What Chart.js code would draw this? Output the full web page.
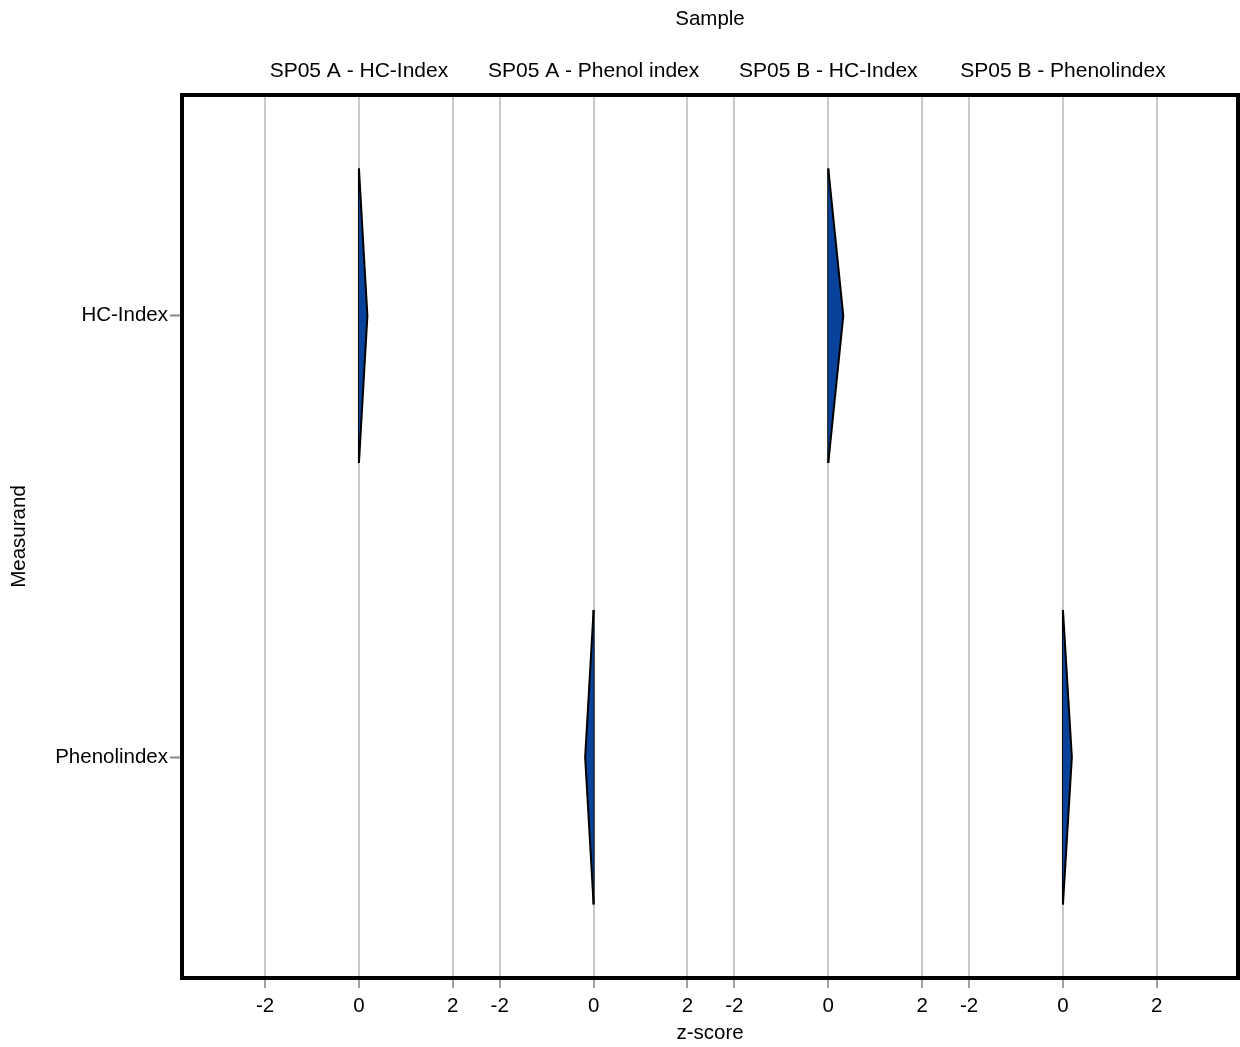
<!DOCTYPE html>
<html>
<head>
<meta charset="utf-8">
<script src="https://cdn.jsdelivr.net/npm/chart.js@4/dist/chart.umd.min.js"></script>
<style>
  html, body { margin: 0; padding: 0; background: #fff; }
  #wrap { width: 1240px; height: 1047px; }
</style>
</head>
<body>
<div id="wrap"><canvas id="zChart"></canvas></div>
<script>
// --- data ---
const samples = ['SP05 A - HC-Index', 'SP05 A - Phenol index', 'SP05 B - HC-Index', 'SP05 B - Phenolindex'];
const measurands = ['HC-Index', 'Phenolindex'];
const sampleRow = [0, 1, 0, 1];            // which measurand row each sample sits in
const zScores = [0.18, -0.18, 0.32, 0.19];  // z-score per sample
const zTicks = [-2, 0, 2];

const FACET = 5;      // width of one facet in z units
const HALF = 1 / 3;   // half height of the violin shape (row units)
const FONT = "'Liberation Sans', Arial, sans-serif";

Chart.defaults.font.family = FONT;
Chart.defaults.font.size = 20.5;
Chart.defaults.color = '#000';

const datasets = [];
samples.forEach((name, i) => {
  const c = i * FACET;
  const mid = sampleRow[i] + 0.5;
  // filled triangle towards the z value
  datasets.push({
    label: name,
    data: [{ x: c, y: mid - HALF }, { x: c + zScores[i], y: mid }, { x: c, y: mid + HALF }],
    borderColor: '#000',
    borderWidth: 2,
    backgroundColor: '#08429a',
    fill: { value: c },
    pointRadius: 0,
    tension: 0
  });
  // straight edge on the zero line
  datasets.push({
    label: name + ' edge',
    data: [{ x: c, y: mid - HALF }, { x: c, y: mid + HALF }],
    borderColor: '#000',
    borderWidth: 2,
    fill: false,
    pointRadius: 0
  });
});

const framePlugin = {
  id: 'frame',
  afterDraw(chart) {
    const { ctx, chartArea: a } = chart;
    ctx.save();
    ctx.strokeStyle = '#000';
    ctx.lineWidth = 4;
    ctx.strokeRect(a.left, a.top, a.right - a.left, a.bottom - a.top);
    ctx.restore();
  }
};

const xMin = zTicks[0] - 1.77;
const xMax = (samples.length - 1) * FACET + zTicks[zTicks.length - 1] + 1.73;

new Chart(document.getElementById('zChart'), {
  type: 'line',
  data: { datasets },
  plugins: [framePlugin],
  options: {
    indexAxis: 'y',
    responsive: true,
    maintainAspectRatio: false,
    animation: false,
    layout: { padding: { right: 2 } },
    plugins: { legend: { display: false }, tooltip: { enabled: false } },
    scales: {
      x: {
        type: 'linear',
        position: 'bottom',
        min: xMin,
        max: xMax,
        afterBuildTicks(scale) {
          const t = [];
          samples.forEach((_, i) => zTicks.forEach(v => t.push({ value: i * FACET + v })));
          scale.ticks = t;
        },
        afterFit(scale) { scale.height = 69; },
        ticks: {
          padding: 6,
          maxRotation: 0,
          autoSkip: false,
          callback: v => String(Math.round(v - FACET * Math.round(v / FACET)))
        },
        grid: { color: '#c8c8c8', lineWidth: 2, tickLength: 10, tickColor: '#a0a0a0', tickWidth: 2 },
        border: { display: false },
        title: { display: true, text: 'z-score', padding: { top: 0, bottom: 1 } }
      },
      x2: {
        type: 'linear',
        position: 'top',
        min: xMin,
        max: xMax,
        afterBuildTicks(scale) {
          scale.ticks = samples.map((_, i) => ({ value: i * FACET }));
        },
        afterFit(scale) { scale.height = 95; },
        ticks: {
          padding: 3,
          maxRotation: 0,
          autoSkip: false,
          font: { size: 21 },
          callback: v => samples[Math.round(v / FACET)]
        },
        grid: { display: false },
        border: { display: false },
        title: { display: true, text: 'Sample', padding: { top: 7, bottom: 0 } }
      },
      y: {
        type: 'linear',
        min: 0,
        max: measurands.length,
        reverse: true,
        afterBuildTicks(scale) {
          scale.ticks = measurands.map((_, i) => ({ value: i + 0.5 }));
        },
        afterFit(scale) { scale.width = 182; },
        ticks: {
          padding: 2,
          autoSkip: false,
          callback: v => measurands[Math.floor(v)]
        },
        grid: { drawOnChartArea: false, tickLength: 12, tickColor: '#888', tickWidth: 2 },
        border: { display: false },
        title: { display: true, text: 'Measurand', padding: { top: 7, bottom: 0 } }
      }
    }
  }
});
</script>
</body>
</html>
